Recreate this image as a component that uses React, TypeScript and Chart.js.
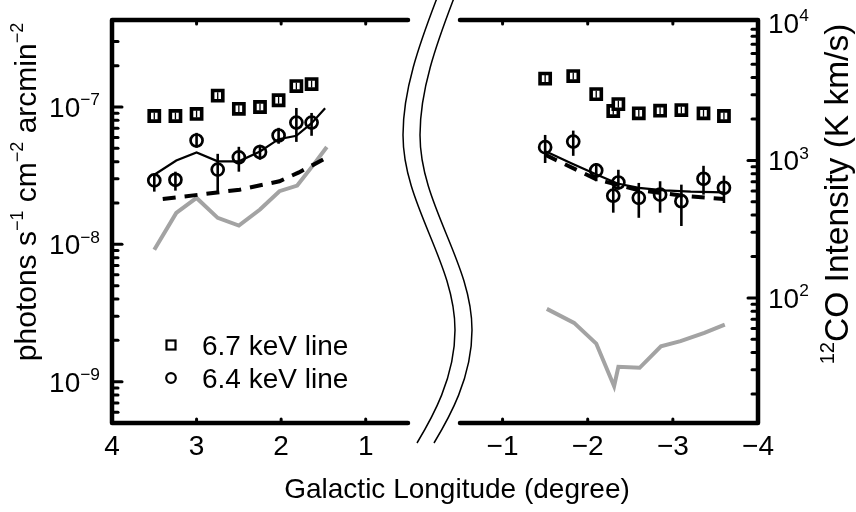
import React, { useEffect, useRef } from 'react';
import { Chart, registerables } from 'chart.js';

Chart.register(...registerables);

// ---------------- data ----------------
// positive-longitude panel
const lonL = [3.5, 3.25, 3.0, 2.75, 2.5, 2.25, 2.03, 1.82, 1.64];
const fe67L = [8.6e-8, 8.6e-8, 8.9e-8, 1.21e-7, 9.7e-8, 1.0e-7, 1.12e-7, 1.42e-7, 1.47e-7];
const fe64L = [2.92e-8, 2.95e-8, 5.7e-8, 3.5e-8, 4.3e-8, 4.7e-8, 6.2e-8, 7.7e-8, 7.7e-8];
const fe64LoL = [2.42e-8, 2.46e-8, 5.05e-8, 2.42e-8, 3.38e-8, 4.13e-8, 5.4e-8, 5.57e-8, 6.17e-8];
const fe64HiL = [3.27e-8, 3.38e-8, 6.48e-8, 4.56e-8, 5.13e-8, 5.31e-8, 7.05e-8, 9.84e-8, 9.05e-8];
const modelLonL = [3.5, 3.24, 3.0, 2.75, 2.5, 2.25, 2.03, 1.82, 1.64, 1.48];
const modelL = [3.21e-8, 4.08e-8, 4.67e-8, 4.02e-8, 4.02e-8, 4.74e-8, 5.83e-8, 6.17e-8, 7.62e-8, 9.79e-8];
const dashLonL = [3.4, 2.965, 2.49, 2.02, 1.79, 1.42];
const dashL = [2.14e-8, 2.3e-8, 2.5e-8, 2.88e-8, 3.34e-8, 4.41e-8];
const coLonL = [3.5, 3.24, 3.0, 2.75, 2.5, 2.25, 2.02, 1.81, 1.63, 1.46];
const coL = [224, 415, 533, 382, 336, 439, 597, 656, 908, 1253];

// negative-longitude panel
const lonR = [-1.5, -1.83, -2.1, -2.3, -2.36, -2.6, -2.85, -3.1, -3.36, -3.6];
const fe67R = [1.61e-7, 1.68e-7, 1.24e-7, 9.35e-8, 1.05e-7, 9.0e-8, 9.4e-8, 9.5e-8, 9.0e-8, 8.6e-8];
const fe64R = [5.1e-8, 5.6e-8, 3.45e-8, 2.26e-8, 2.82e-8, 2.18e-8, 2.3e-8, 2.06e-8, 3.0e-8, 2.58e-8];
const fe64LoR = [3.91e-8, 4.41e-8, 2.88e-8, 1.7e-8, 2.5e-8, 1.56e-8, 1.7e-8, 1.36e-8, 2.3e-8, 2.0e-8];
const fe64HiR = [6.26e-8, 6.73e-8, 3.91e-8, 2.64e-8, 3.49e-8, 2.8e-8, 2.88e-8, 2.72e-8, 3.73e-8, 3.16e-8];
const modelLonR = [-1.51, -1.8, -2.11, -2.35, -2.6, -2.9, -3.21, -3.6];
const modelR = [4.74e-8, 3.91e-8, 3.21e-8, 2.77e-8, 2.58e-8, 2.47e-8, 2.42e-8, 2.39e-8];
const dashLonR = [-1.5, -1.62, -2.11, -2.6, -3.17, -3.6];
const dashR = [4.5e-8, 4.13e-8, 2.96e-8, 2.48e-8, 2.24e-8, 2.14e-8];
const coLonR = [-1.52, -1.84, -2.1, -2.31, -2.36, -2.61, -2.86, -3.09, -3.37, -3.61];
const coR = [83.2, 65.8, 46.5, 22.8, 31.5, 31.0, 44.5, 48.4, 55.6, 63.9];

// axes
const xRangeL = [0.5, 4];
const xRangeR = [-4, -0.5];
const xTicksL = [4, 3, 2, 1];
const xTicksR = [-1, -2, -3, -4];
const fluxRange = [5.0e-10, 4.3e-7];
const coRange = [12.3, 1.05e4];
const fluxExps = [-9, -8, -7];
const coExps = [2, 3, 4];

const labels67 = '6.7 keV line';
const labels64 = '6.4 keV line';
const xTitle = 'Galactic Longitude (degree)';
const yTitleL = [
  { t: 'photons s' }, { t: '\u22121', sup: true },
  { t: ' cm' }, { t: '\u22122', sup: true },
  { t: ' arcmin' }, { t: '\u22122', sup: true },
];
const yTitleR = [{ t: '12', sup: true }, { t: 'CO Intensity (K km/s)' }];

// ---------------- drawing helpers ----------------
const FONT = '"Liberation Sans", Arial, Helvetica, sans-serif';
type Part = { t: string; sup?: boolean };

function drawRich(ctx: CanvasRenderingContext2D, parts: Part[], x: number, y: number, size: number,
  align: 'left' | 'right' | 'center', supScale = 0.62, supRise = 0.42) {
  const supSize = size * supScale;
  const widths = parts.map((p) => {
    ctx.font = `${p.sup ? supSize : size}px ${FONT}`;
    return ctx.measureText(p.t).width;
  });
  const total = widths.reduce((a, b) => a + b, 0);
  let cx = align === 'left' ? x : align === 'right' ? x - total : x - total / 2;
  ctx.textAlign = 'left';
  ctx.textBaseline = 'alphabetic';
  parts.forEach((p, i) => {
    ctx.font = `${p.sup ? supSize : size}px ${FONT}`;
    ctx.fillText(p.t, cx, p.sup ? y - size * supRise : y);
    cx += widths[i];
  });
  return total;
}

function seg(ctx: CanvasRenderingContext2D, x1: number, y1: number, x2: number, y2: number) {
  ctx.beginPath();
  ctx.moveTo(x1, y1);
  ctx.lineTo(x2, y2);
  ctx.stroke();
}

const fmtNum = (v: number) => (v < 0 ? '\u2212' + Math.abs(v) : String(v));

const errorBarPlugin = {
  id: 'errorBars',
  afterDatasetsDraw(chart: any) {
    const ctx = chart.ctx as CanvasRenderingContext2D;
    chart.data.datasets.forEach((ds: any, i: number) => {
      const meta = chart.getDatasetMeta(i);
      const ys = chart.scales[meta.yAxisID];
      ctx.save();
      ctx.strokeStyle = '#000';
      if (ds.errLo && ds.errHi) {
        ctx.lineWidth = 2.6;
        ctx.lineCap = 'butt';
        meta.data.forEach((el: any, j: number) => {
          seg(ctx, el.x, ys.getPixelForValue(ds.errHi[j]), el.x, ys.getPixelForValue(ds.errLo[j]));
        });
      }
      if (ds.innerBar) {
        ctx.lineWidth = 1.3;
        meta.data.forEach((el: any) => seg(ctx, el.x, el.y - 3.5, el.x, el.y + 3.5));
      }
      ctx.restore();
    });
  },
};

function makeAxesPlugin(side: 'L' | 'R') {
  return {
    id: 'axes' + side,
    afterDraw(chart: any) {
      const ctx = chart.ctx as CanvasRenderingContext2D;
      const { left, right, top, bottom } = chart.chartArea;
      const xs = chart.scales.x;
      ctx.save();
      ctx.strokeStyle = '#000';
      ctx.fillStyle = '#000';
      ctx.lineCap = 'round';
      ctx.lineJoin = 'round';
      // frame
      ctx.lineWidth = 4.5;
      ctx.beginPath();
      if (side === 'L') {
        ctx.moveTo(right, top); ctx.lineTo(left, top); ctx.lineTo(left, bottom); ctx.lineTo(right, bottom);
      } else {
        ctx.moveTo(left, top); ctx.lineTo(right, top); ctx.lineTo(right, bottom); ctx.lineTo(left, bottom);
      }
      ctx.stroke();

      // x ticks + labels
      const xt = side === 'L' ? xTicksL : xTicksR;
      ctx.lineWidth = 3;
      xt.forEach((v) => {
        const px = xs.getPixelForValue(v);
        if (Math.abs(px - left) > 4 && Math.abs(px - right) > 4) {
          seg(ctx, px, top, px, top + 4);
          seg(ctx, px, bottom, px, bottom - 4);
        }
        ctx.font = `28px ${FONT}`;
        ctx.textAlign = 'center';
        ctx.textBaseline = 'alphabetic';
        ctx.fillText(fmtNum(v), px, bottom + 32);
      });

      // y ticks (log, inward)
      const ys = side === 'L' ? chart.scales.y : chart.scales.yCO;
      const axisX = side === 'L' ? left : right;
      const dir = side === 'L' ? 1 : -1;
      const e0 = Math.floor(Math.log10(ys.min));
      const e1 = Math.ceil(Math.log10(ys.max));
      ctx.lineWidth = 3;
      for (let e = e0; e <= e1; e++) {
        for (let m = 1; m <= 9; m++) {
          const v = m * Math.pow(10, e);
          if (v < ys.min || v > ys.max) continue;
          const py = ys.getPixelForValue(v);
          if (py < top + 5 || py > bottom - 5) continue;
          const len = m === 1 ? 10 : 6;
          seg(ctx, axisX, py, axisX + dir * len, py);
        }
      }
      const exps = side === 'L' ? fluxExps : coExps;
      exps.forEach((e) => {
        const py = ys.getPixelForValue(Math.pow(10, e));
        const parts = [{ t: '10' }, { t: fmtNum(e), sup: true }];
        if (side === 'L') drawRich(ctx, parts, axisX - 12, py + 10, 28, 'right');
        else drawRich(ctx, parts, axisX + 10, py + 10, 28, 'left');
      });

      if (side === 'L') {
        // y title
        ctx.save();
        ctx.translate(36, 192);
        ctx.rotate(-Math.PI / 2);
        drawRich(ctx, yTitleL, 0, 0, 30, 'center', 0.6, 0.42);
        ctx.restore();

        // legend
        const lx = left + 59;
        const ly1 = bottom - 78;
        const ly2 = bottom - 45;
        ctx.lineWidth = 2.2;
        ctx.lineCap = 'butt';
        ctx.lineJoin = 'miter';
        ctx.strokeRect(lx - 4.5, ly1 - 4.5, 9, 9);
        ctx.beginPath();
        ctx.arc(lx, ly2, 4.8, 0, Math.PI * 2);
        ctx.stroke();
        ctx.font = `28px ${FONT}`;
        ctx.textAlign = 'left';
        ctx.textBaseline = 'alphabetic';
        ctx.fillText(chart.data.datasets[0].label, lx + 31, ly1 + 10);
        ctx.fillText(chart.data.datasets[1].label, lx + 31, ly2 + 10);

        // axis break curves
        ctx.lineWidth = 1.5;
        ctx.lineCap = 'butt';
        [0, 17].forEach((off) => {
          const X = (x: number) => right + (x - 408) + off;
          const Y = (y: number) => top + (y - 20);
          ctx.beginPath();
          ctx.moveTo(X(437), Y(-2));
          ctx.bezierCurveTo(X(419), Y(45), X(403), Y(90), X(403), Y(135));
          ctx.bezierCurveTo(X(403), Y(205), X(455), Y(262), X(455), Y(330));
          ctx.bezierCurveTo(X(455), Y(378), X(432), Y(418), X(417), Y(443));
          ctx.stroke();
        });

        // x title
        ctx.font = `28px ${FONT}`;
        ctx.textAlign = 'center';
        ctx.fillText(xTitle, 457, bottom + 75);
      } else {
        ctx.save();
        ctx.translate(848, 194);
        ctx.rotate(-Math.PI / 2);
        drawRich(ctx, yTitleR, 0, 0, 33.5, 'center', 0.6, 0.42);
        ctx.restore();
      }
      ctx.restore();
    },
  };
}

const pts = (xs: number[], ys: number[]) => xs.map((x, i) => ({ x, y: ys[i] }));

function buildConfig(side: 'L' | 'R'): any {
  const isL = side === 'L';
  const datasets = [
    {
      label: labels67,
      data: pts(isL ? lonL : lonR, isL ? fe67L : fe67R),
      yAxisID: 'y', showLine: false, order: 1,
      pointStyle: 'rect', pointRadius: 7.2, pointBorderWidth: 3.6,
      pointBorderColor: '#000', pointBackgroundColor: '#fff', innerBar: true,
    },
    {
      label: labels64,
      data: pts(isL ? lonL : lonR, isL ? fe64L : fe64R),
      yAxisID: 'y', showLine: false, order: 2,
      pointStyle: 'circle', pointRadius: 6, pointBorderWidth: 2.7,
      pointBorderColor: '#000', pointBackgroundColor: 'rgba(0,0,0,0)',
      errLo: isL ? fe64LoL : fe64LoR, errHi: isL ? fe64HiL : fe64HiR,
    },
    {
      label: 'model',
      data: pts(isL ? modelLonL : modelLonR, isL ? modelL : modelR),
      yAxisID: 'y', showLine: true, order: 3, pointRadius: 0,
      borderColor: '#000', borderWidth: 2.2, tension: 0,
    },
    {
      label: 'model (dashed)',
      data: pts(isL ? dashLonL : dashLonR, isL ? dashL : dashR),
      yAxisID: 'y', showLine: true, order: 4, pointRadius: 0,
      borderColor: '#000', borderWidth: 4, borderDash: [13, 9], tension: 0,
    },
    {
      label: '12CO',
      data: pts(isL ? coLonL : coLonR, isL ? coL : coR),
      yAxisID: 'yCO', showLine: true, order: 5, pointRadius: 0,
      borderColor: '#a3a3a3', borderWidth: 4, tension: 0,
    },
  ];
  return {
    type: 'scatter',
    data: { datasets },
    options: {
      animation: false,
      responsive: false,
      devicePixelRatio: 1,
      events: [],
      layout: {
        autoPadding: false,
        padding: isL
          ? { left: 112, right: 856 - 408, top: 20, bottom: 512 - 423 }
          : { left: 460, right: 856 - 758, top: 20, bottom: 512 - 423 },
      },
      plugins: { legend: { display: false }, tooltip: { enabled: false }, title: { display: false } },
      scales: {
        x: { type: 'linear', min: (isL ? xRangeL : xRangeR)[0], max: (isL ? xRangeL : xRangeR)[1], reverse: true, display: false },
        y: { type: 'logarithmic', min: fluxRange[0], max: fluxRange[1], display: false },
        yCO: { type: 'logarithmic', position: 'right', min: coRange[0], max: coRange[1], display: false },
      },
    },
    plugins: [errorBarPlugin, makeAxesPlugin(side)],
  };
}

export default function App() {
  const leftRef = useRef<HTMLCanvasElement>(null);
  const rightRef = useRef<HTMLCanvasElement>(null);
  useEffect(() => {
    const cl = new Chart(leftRef.current as HTMLCanvasElement, buildConfig('L'));
    const cr = new Chart(rightRef.current as HTMLCanvasElement, buildConfig('R'));
    return () => {
      cl.destroy();
      cr.destroy();
    };
  }, []);
  return (
    <div style={{ position: 'absolute', left: 0, top: 0, width: 856, height: 512, background: '#fff' }}>
      <canvas ref={leftRef} width={856} height={512} style={{ position: 'absolute', left: 0, top: 0 }} />
      <canvas ref={rightRef} width={856} height={512} style={{ position: 'absolute', left: 0, top: 0 }} />
    </div>
  );
}
